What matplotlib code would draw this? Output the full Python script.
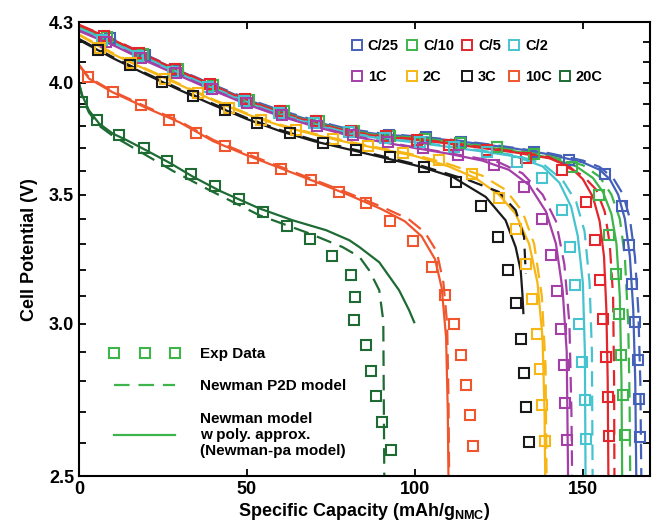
import matplotlib
matplotlib.use("Agg")
import matplotlib.pyplot as plt
from matplotlib.lines import Line2D
from matplotlib.ticker import NullFormatter

plt.rcParams['font.family'] = ['Liberation Sans', 'DejaVu Sans']
plt.rcParams['font.weight'] = 'bold'
plt.rcParams['axes.labelweight'] = 'bold'
plt.rcParams['mathtext.fontset'] = 'custom'
plt.rcParams['mathtext.rm'] = 'Liberation Sans:bold'
plt.rcParams['mathtext.bf'] = 'Liberation Sans:bold'

# ---- data (capacity mAh/g, potential V) ----
# C/25
c25_exp_x = [9.2, 19.6, 29.5, 39.9, 50.3, 60.2, 70.6, 81.5, 92.4, 103.3, 113.7, 124.5, 135.4, 145.8, 156.7, 161.7, 163.6, 164.6, 165.6, 166.3, 166.6, 167.1]
c25_exp_v = [4.217, 4.133, 4.06, 3.988, 3.917, 3.863, 3.817, 3.772, 3.76, 3.749, 3.727, 3.705, 3.683, 3.649, 3.589, 3.452, 3.294, 3.147, 3.006, 2.874, 2.743, 2.62]
c25_p2d_x = [0, 10, 20, 30, 40, 50, 60, 70, 80, 90, 100, 110, 120, 130, 140, 150, 155, 159, 162, 164, 165.5, 166.5, 167.1, 167.4]
c25_p2d_v = [4.28, 4.215, 4.135, 4.06, 3.99, 3.925, 3.87, 3.825, 3.785, 3.765, 3.752, 3.738, 3.72, 3.70, 3.677, 3.645, 3.617, 3.57, 3.5, 3.4, 3.25, 3.05, 2.8, 2.5]
c25_pa_x = [0, 10, 20, 30, 40, 50, 60, 70, 80, 90, 100, 110, 120, 130, 140, 150, 155, 158, 160.5, 162.5, 164, 165, 165.6, 165.9]
c25_pa_v = [4.275, 4.21, 4.13, 4.057, 3.987, 3.92, 3.865, 3.82, 3.78, 3.76, 3.75, 3.735, 3.717, 3.697, 3.672, 3.637, 3.605, 3.565, 3.5, 3.4, 3.25, 3.05, 2.8, 2.5]

# C/10
c10_exp_x = [8.5, 19, 29.5, 40, 50.5, 61, 71.5, 82, 92.5, 103, 113.5, 124.5, 135.5, 146.8, 154.7, 157.9, 159.9, 160.7, 161.4, 161.9, 162.5]
c10_exp_v = [4.225, 4.14, 4.065, 3.99, 3.92, 3.865, 3.82, 3.775, 3.755, 3.74, 3.72, 3.705, 3.675, 3.617, 3.497, 3.336, 3.182, 3.033, 2.889, 2.754, 2.625]
c10_p2d_x = [0, 10, 20, 30, 40, 50, 60, 70, 80, 90, 100, 110, 120, 130, 140, 150, 155, 158.5, 161, 162.5, 163.5, 163.9, 164.1]
c10_p2d_v = [4.275, 4.208, 4.128, 4.055, 3.985, 3.918, 3.863, 3.818, 3.778, 3.758, 3.746, 3.73, 3.71, 3.69, 3.664, 3.625, 3.575, 3.5, 3.4, 3.25, 3.0, 2.75, 2.5]
c10_pa_x = [0, 10, 20, 30, 40, 50, 60, 70, 80, 90, 100, 110, 120, 130, 140, 148, 153, 156, 158.5, 160, 161, 161.5, 161.7]
c10_pa_v = [4.272, 4.205, 4.125, 4.052, 3.982, 3.915, 3.86, 3.815, 3.775, 3.755, 3.743, 3.727, 3.707, 3.685, 3.658, 3.62, 3.57, 3.51, 3.42, 3.3, 3.1, 2.8, 2.5]

# C/5
c5_exp_x = [7.5, 18, 28.5, 39, 49.5, 60, 70.5, 81, 91.5, 100.5, 110.2, 121.5, 133, 143.8, 150.8, 153.5, 155.2, 156, 156.9, 157.5, 157.9]
c5_exp_v = [4.228, 4.143, 4.068, 3.995, 3.925, 3.868, 3.82, 3.778, 3.752, 3.735, 3.712, 3.69, 3.654, 3.603, 3.469, 3.314, 3.162, 3.018, 2.881, 2.748, 2.622]
c5_p2d_x = [0, 10, 20, 30, 40, 50, 60, 70, 80, 90, 100, 110, 120, 130, 140, 150, 154, 156.5, 158, 159, 159.3, 159.4]
c5_p2d_v = [4.287, 4.215, 4.133, 4.058, 3.986, 3.918, 3.861, 3.815, 3.775, 3.753, 3.74, 3.724, 3.704, 3.684, 3.66, 3.58, 3.52, 3.43, 3.3, 3.1, 2.8, 2.5]
c5_pa_x = [0, 10, 20, 30, 40, 50, 60, 70, 80, 90, 100, 110, 120, 130, 140, 146, 150, 153, 155, 156.3, 157, 157.4, 157.6]
c5_pa_v = [4.285, 4.212, 4.13, 4.055, 3.983, 3.915, 3.858, 3.812, 3.772, 3.75, 3.737, 3.72, 3.70, 3.68, 3.655, 3.62, 3.565, 3.49, 3.39, 3.25, 3.05, 2.8, 2.5]

# C/2
c2_exp_x = [7, 17.5, 28, 38.5, 49, 59.5, 70, 80.5, 91, 101.5, 111.5, 121.6, 130.5, 137.9, 143.7, 146.3, 147.8, 149, 149.8, 150.5, 151]
c2_exp_v = [4.21, 4.128, 4.052, 3.982, 3.913, 3.857, 3.81, 3.77, 3.745, 3.728, 3.705, 3.683, 3.64, 3.568, 3.435, 3.287, 3.14, 3.0, 2.866, 2.737, 2.615]
c2_p2d_x = [0, 10, 20, 30, 40, 50, 60, 70, 80, 90, 100, 110, 120, 130, 138, 144, 148, 150.5, 152, 152.7, 152.9]
c2_p2d_v = [4.268, 4.2, 4.12, 4.046, 3.976, 3.909, 3.853, 3.808, 3.768, 3.745, 3.728, 3.708, 3.688, 3.668, 3.632, 3.56, 3.47, 3.35, 3.15, 2.9, 2.5]
c2_pa_x = [0, 10, 20, 30, 40, 50, 60, 70, 80, 90, 100, 110, 120, 130, 138, 143, 146.5, 148.5, 150, 150.6, 150.8]
c2_pa_v = [4.265, 4.197, 4.117, 4.043, 3.973, 3.906, 3.85, 3.805, 3.765, 3.742, 3.725, 3.705, 3.685, 3.663, 3.62, 3.55, 3.45, 3.33, 3.15, 2.9, 2.5]

# 1C
r1_exp_x = [8, 18.5, 29, 39.5, 50, 60.5, 71, 81.5, 92, 102.5, 112.7, 123.6, 132.5, 137.7, 140.4, 142.4, 143.4, 144.3, 144.8, 145.3]
r1_exp_v = [4.2, 4.12, 4.045, 3.972, 3.903, 3.848, 3.8, 3.757, 3.725, 3.698, 3.668, 3.625, 3.532, 3.401, 3.258, 3.119, 2.982, 2.854, 2.729, 2.612]
r1_p2d_x = [0, 10, 20, 30, 40, 50, 60, 70, 80, 90, 100, 110, 120, 125, 132, 138, 142, 144.5, 146, 146.6, 146.8]
r1_p2d_v = [4.258, 4.188, 4.108, 4.036, 3.966, 3.901, 3.846, 3.8, 3.76, 3.73, 3.703, 3.678, 3.652, 3.637, 3.59, 3.5, 3.39, 3.22, 3.0, 2.7, 2.5]
r1_pa_x = [0, 10, 20, 30, 40, 50, 60, 70, 80, 90, 100, 110, 120, 128, 134, 139, 142, 144, 145.2, 145.6]
r1_pa_v = [4.255, 4.185, 4.105, 4.033, 3.963, 3.898, 3.843, 3.797, 3.757, 3.727, 3.7, 3.675, 3.645, 3.605, 3.54, 3.43, 3.3, 3.12, 2.9, 2.5]

# 2C
r2_exp_x = [6.2, 15.6, 25.5, 35.4, 44.8, 54.3, 64.7, 75.5, 86, 96.5, 107.2, 117.1, 125, 130, 133, 134.9, 136.4, 137.1, 137.9, 138.6]
r2_exp_v = [4.167, 4.093, 4.02, 3.949, 3.879, 3.825, 3.78, 3.742, 3.71, 3.68, 3.646, 3.589, 3.486, 3.36, 3.223, 3.091, 2.964, 2.84, 2.721, 2.607]
r2_p2d_x = [0, 10, 20, 30, 40, 50, 60, 70, 80, 90, 100, 110, 120, 127, 132, 135.5, 137.8, 138.9, 139.2]
r2_p2d_v = [4.238, 4.145, 4.067, 3.994, 3.921, 3.856, 3.804, 3.764, 3.729, 3.699, 3.67, 3.63, 3.58, 3.52, 3.43, 3.3, 3.1, 2.85, 2.5]
r2_pa_x = [0, 10, 20, 30, 40, 50, 60, 70, 80, 90, 100, 110, 118, 125, 130, 134, 136.5, 138, 138.6, 138.8]
r2_pa_v = [4.235, 4.14, 4.063, 3.99, 3.917, 3.852, 3.8, 3.76, 3.725, 3.695, 3.665, 3.62, 3.57, 3.5, 3.42, 3.3, 3.15, 2.95, 2.7, 2.5]

# 3C
r3_exp_x = [5.7, 15.1, 24.6, 33.9, 43.4, 53, 62.7, 72.6, 82.5, 92.5, 102.8, 112.2, 119.6, 124.7, 127.8, 130, 131.5, 132.5, 133.1, 133.9]
r3_exp_v = [4.159, 4.085, 4.004, 3.936, 3.871, 3.81, 3.765, 3.72, 3.69, 3.66, 3.617, 3.553, 3.452, 3.327, 3.2, 3.075, 2.947, 2.828, 2.716, 2.605]
r3_p2d_x = [0, 10, 20, 30, 40, 50, 60, 70, 80, 90, 101.3, 116.1, 125, 130, 132.5, 133]
r3_p2d_v = [4.215, 4.125, 4.045, 3.97, 3.9, 3.835, 3.78, 3.735, 3.7, 3.665, 3.625, 3.56, 3.511, 3.435, 3.327, 3.185]
r3_pa_x = [0, 10, 20, 30, 40, 50, 60, 70, 80, 90, 101.3, 111.2, 121.1, 127, 130, 131.5, 132, 132.3]
r3_pa_v = [4.21, 4.12, 4.04, 3.965, 3.895, 3.83, 3.775, 3.73, 3.695, 3.66, 3.62, 3.575, 3.49, 3.394, 3.287, 3.197, 3.11, 3.038]

# 10C
r10_exp_x = [2.8, 10.2, 18.6, 26.8, 35, 43.4, 51.8, 60.2, 69.1, 77.5, 85.5, 92.5, 99.5, 105.2, 109, 111.7, 113.7, 115.1, 116.3, 117.3]
r10_exp_v = [4.028, 3.956, 3.894, 3.828, 3.767, 3.708, 3.658, 3.61, 3.56, 3.511, 3.465, 3.39, 3.31, 3.21, 3.103, 2.997, 2.889, 2.787, 2.689, 2.591]
r10_p2d_x = [0, 3, 10, 20, 30, 40, 50, 60, 70, 80, 90, 98, 103, 106.5, 108.5, 109.6, 110, 110.2]
r10_p2d_v = [4.088, 4.025, 3.96, 3.887, 3.82, 3.736, 3.674, 3.618, 3.562, 3.507, 3.45, 3.4, 3.345, 3.27, 3.15, 3.0, 2.75, 2.5]
r10_pa_x = [0, 3, 10, 20, 30, 40, 50, 60, 70, 80, 90, 97, 102, 106, 108, 109.3, 109.8, 110]
r10_pa_v = [4.085, 4.02, 3.955, 3.882, 3.815, 3.73, 3.668, 3.612, 3.556, 3.5, 3.44, 3.39, 3.33, 3.24, 3.13, 2.95, 2.7, 2.5]

# 20C
r20_exp_x = [0.8, 5.4, 11.9, 19.3, 26.2, 33.5, 40.4, 47.6, 54.7, 61.9, 68.8, 75.3, 81, 82.3, 82, 85.5, 87, 88.5, 90.3, 93]
r20_exp_v = [3.91, 3.825, 3.757, 3.702, 3.643, 3.586, 3.535, 3.48, 3.428, 3.372, 3.317, 3.251, 3.178, 3.096, 3.012, 2.923, 2.834, 2.751, 2.666, 2.579]
r20_p2d_x = [0, 1, 3, 6, 10, 19.1, 28, 38.9, 53.8, 68.6, 78.5, 83.5, 86.4, 89.4, 90.6, 90.9]
r20_p2d_v = [4.0, 3.93, 3.86, 3.8, 3.755, 3.676, 3.6, 3.518, 3.414, 3.341, 3.287, 3.249, 3.197, 3.122, 3.01, 2.5]
r20_pa_x = [0, 1, 3, 6, 10, 14.2, 20, 27, 34, 42, 53.8, 63.6, 73.6, 80.5, 83.5, 89.4, 95.3, 98.3, 99.8]
r20_pa_v = [4.0, 3.94, 3.87, 3.81, 3.765, 3.735, 3.69, 3.635, 3.575, 3.515, 3.442, 3.394, 3.354, 3.314, 3.287, 3.228, 3.122, 3.048, 3.005]

labels = ['C/25', 'C/10', 'C/5', 'C/2', '1C', '2C', '3C', '10C', '20C']
colors = ['#4560b8', '#3db54a', '#e2262b', '#45c4d0', '#a43fa7', '#f6b716', '#1a1a1a', '#f0562e', '#1e6b33']
series = [
    (c25_exp_x, c25_exp_v, c25_p2d_x, c25_p2d_v, c25_pa_x, c25_pa_v),
    (c10_exp_x, c10_exp_v, c10_p2d_x, c10_p2d_v, c10_pa_x, c10_pa_v),
    (c5_exp_x, c5_exp_v, c5_p2d_x, c5_p2d_v, c5_pa_x, c5_pa_v),
    (c2_exp_x, c2_exp_v, c2_p2d_x, c2_p2d_v, c2_pa_x, c2_pa_v),
    (r1_exp_x, r1_exp_v, r1_p2d_x, r1_p2d_v, r1_pa_x, r1_pa_v),
    (r2_exp_x, r2_exp_v, r2_p2d_x, r2_p2d_v, r2_pa_x, r2_pa_v),
    (r3_exp_x, r3_exp_v, r3_p2d_x, r3_p2d_v, r3_pa_x, r3_pa_v),
    (r10_exp_x, r10_exp_v, r10_p2d_x, r10_p2d_v, r10_pa_x, r10_pa_v),
    (r20_exp_x, r20_exp_v, r20_p2d_x, r20_p2d_v, r20_pa_x, r20_pa_v),
]

fig = plt.figure(figsize=(6.52, 5.28), dpi=100)
ax = fig.add_axes([0.121, 0.098, 0.876, 0.860])

for (ex, ev, dx, dv, sx, sv), c in zip(series, colors):
    ax.plot(dx, dv, color=c, lw=1.6, ls=(0, (7, 4)))
    ax.plot(sx, sv, color=c, lw=1.6)
for (ex, ev, dx, dv, sx, sv), c in zip(series, colors):
    ax.plot(ex, ev, ls='none', marker='s', ms=7.5, mfc='none', mec=c, mew=1.5)

ax.set_yscale('log')
ax.set_xlim(0, 170)
ax.set_ylim(2.5, 4.3)
ax.set_xticks([0, 50, 100, 150])
ax.set_yticks([2.5, 3.0, 3.5, 4.0, 4.3])
ax.set_yticklabels(['2.5', '3.0', '3.5', '4.0', '4.3'])
ax.set_yticks([2.6, 2.7, 2.8, 2.9, 3.1, 3.2, 3.3, 3.4, 3.6, 3.7, 3.8, 3.9, 4.1, 4.2], minor=True)
ax.yaxis.set_minor_formatter(NullFormatter())
ax.tick_params(which='both', direction='in', top=True, right=True, length=5, width=1.3, labelsize=13)
for s in ax.spines.values():
    s.set_linewidth(1.5)

ax.set_xlabel(r'Specific Capacity (mAh/g$_{\mathrm{NMC}}$)', fontsize=13, fontweight='bold', labelpad=2)
ax.set_ylabel('Cell Potential (V)', fontsize=13, fontweight='bold', labelpad=8)

# rate legend: two rows, filled column by column; a blank slot keeps 20C on row 2
order = [0, 4, 1, 5, 2, 6, 3, 7, None, 8]
h1, t1 = [], []
for i in order:
    if i is None:
        h1.append(Line2D([], [], ls='none'))
        t1.append('')
    else:
        h1.append(Line2D([], [], ls='none', marker='s', ms=6.5, mfc='none', mec=colors[i], mew=1.4))
        t1.append(labels[i])
leg1 = ax.legend(h1, t1, ncol=5, loc='upper left',
                 bbox_to_anchor=(0.46, 0.985), frameon=False, fontsize=10.5,
                 handlelength=0.7, handletextpad=0.4, columnspacing=0.55, labelspacing=1.15,
                 borderaxespad=0.3)
ax.add_artist(leg1)

g = '#3db54a'
h2 = [Line2D([], [], ls='none', marker='s', ms=7.5, mfc='none', mec=g, mew=1.5),
      Line2D([], [], color=g, lw=1.6, ls=(0, (7, 4))),
      Line2D([], [], color=g, lw=1.6)]
ax.legend(h2, ['Exp Data', 'Newman P2D model', 'Newman model\nw poly. approx.\n(Newman-pa model)'],
          loc='lower left', bbox_to_anchor=(0.03, 0.01), frameon=False, fontsize=11,
          numpoints=3, handlelength=4.6, handletextpad=1.3, labelspacing=1.2)

fig.savefig('out.png', dpi=100)
